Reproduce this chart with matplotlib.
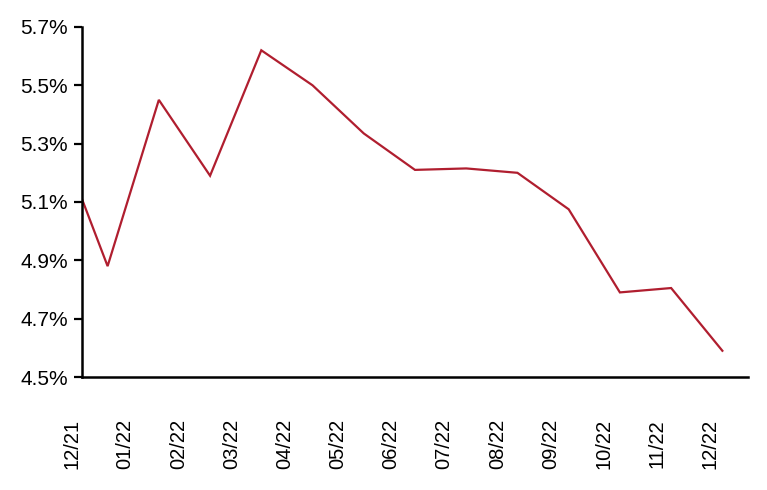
import matplotlib
matplotlib.use("Agg")
import matplotlib.pyplot as plt
from matplotlib.ticker import FuncFormatter

plt.rcParams["font.family"] = ["Liberation Sans", "DejaVu Sans"]

LINE_COLOR = "#B01E2F"

# month offsets from end of Dec 2021 (first point at month end, then mid-month)
month_pos = [0, 0.5, 1.5, 2.5, 3.5, 4.5, 5.5, 6.5, 7.5, 8.5, 9.5, 10.5, 11.5, 12.5]
rate = [5.11, 4.88, 5.45, 5.19, 5.62, 5.50, 5.335, 5.21, 5.215, 5.20, 5.075,
        4.79, 4.805, 4.59]
tick_labels = ["12/21", "01/22", "02/22", "03/22", "04/22", "05/22", "06/22",
               "07/22", "08/22", "09/22", "10/22", "11/22", "12/22"]

fig = plt.figure(figsize=(7.67, 4.90), dpi=100)
ax = fig.add_axes([0.1069, 0.2306, 0.8683, 0.7144])

ax.plot(month_pos, rate, color=LINE_COLOR, linewidth=1.6, solid_joinstyle="miter")

ax.set_ylim(4.5, 5.7)
ax.set_yticks([4.5, 4.7, 4.9, 5.1, 5.3, 5.5, 5.7])
ax.yaxis.set_major_formatter(FuncFormatter(lambda v, _: f"{v:.1f}%"))
ax.set_xticks([])
ax.set_xlim(0, 13)

# category labels sit slightly offset from the data positions in the source
for i, lab in enumerate(tick_labels):
    ax.text(-0.195 + 1.038 * i, -0.12, lab, rotation=90, fontsize=14.5,
            ha="center", va="top", transform=ax.get_xaxis_transform(),
            clip_on=False)

ax.tick_params(axis="y", direction="out", length=6, width=1.6, labelsize=15, pad=4)

for side in ("top", "right"):
    ax.spines[side].set_visible(False)
for side in ("left", "bottom"):
    ax.spines[side].set_linewidth(1.8)

fig.savefig("out.png", dpi=100)
